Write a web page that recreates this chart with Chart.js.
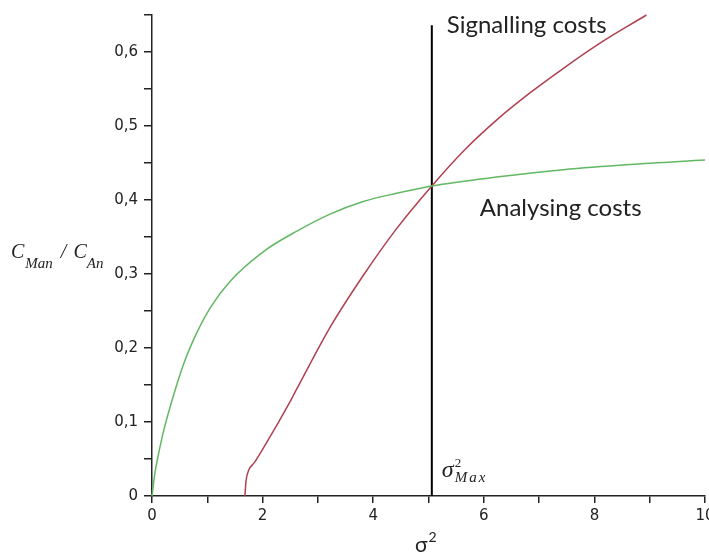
<!DOCTYPE html>
<html>
<head>
<meta charset="utf-8">
<script src="https://cdn.jsdelivr.net/npm/chart.js@4"></script>
<style>
  html, body { margin: 0; padding: 0; background: #fff; }
  #wrap { width: 709px; height: 557px; }
</style>
</head>
<body>
<div id="wrap"><canvas id="cost-chart" width="709" height="557"></canvas></div>
<script>
// values (sigma^2 on x, cost ratio on y)
const analysingX = [0, 0.05, 0.1, 0.2, 0.33, 0.57, 0.8, 1.05, 1.41, 2.01, 2.62, 3.22, 3.82, 4.42, 5.06, 6.23, 7.44, 8.64, 10];
const analysingCost = [0, 0.03, 0.05, 0.085, 0.121, 0.178, 0.219, 0.254, 0.29, 0.33, 0.358, 0.381, 0.398, 0.409, 0.419, 0.431, 0.441, 0.448, 0.454];

const signallingX = [1.68, 1.70, 1.75, 1.85, 2.0, 2.5, 2.62, 3.22, 3.82, 4.42, 5.06, 5.63, 6.23, 6.84, 7.44, 8.04, 8.94];
const signallingCost = [0, 0.02, 0.035, 0.045, 0.063, 0.128, 0.145, 0.228, 0.298, 0.361, 0.419, 0.466, 0.508, 0.545, 0.578, 0.609, 0.650];

const sigmaMax = 5.06;
const markerRange = [0, 0.636];

const xTickLabels = [0, 2, 4, 6, 8, 10];
const yTickLabels = [0, 0.1, 0.2, 0.3, 0.4, 0.5, 0.6];

const toPoints = (xs, ys) => xs.map((x, i) => ({ x: x, y: ys[i] }));

const axisColor = '#222';
const tickFont = { family: "'DejaVu Sans'", size: 15 };

const textPlugin = {
    id: 'costTexts',
    afterDraw(chart) {
        const ctx = chart.ctx;
        const xs = chart.scales.x;
        const ys = chart.scales.y;
        const xm = xs.getPixelForValue(sigmaMax);
        ctx.save();
        ctx.fillStyle = '#222';
        ctx.textBaseline = 'alphabetic';
        ctx.textAlign = 'left';

        // curve labels
        ctx.font = "24px Lato";
        ctx.fillText('Signalling costs', xm + 15, 33);
        ctx.fillText('Analysing costs', xm + 48, ys.getPixelForValue(0.4) + 16);

        // sigma^2_Max marker label
        const by = ys.getPixelForValue(0) - 19;
        ctx.font = "italic 24px 'Liberation Serif'";
        ctx.fillText('σ', xm + 10, by);
        const sw = ctx.measureText('σ').width;
        ctx.font = "13px 'Liberation Serif'";
        ctx.fillText('2', xm + 11 + sw, by - 10);
        ctx.font = "italic 15px 'Liberation Serif'";
        ctx.letterSpacing = '2px';
        ctx.fillText('Max', xm + 11 + sw, by + 5);
        ctx.letterSpacing = '0px';

        // x axis title
        const cx = (xs.left + xs.right) / 2;
        ctx.font = "21px Lato";
        const tw = ctx.measureText('σ').width;
        ctx.fillText('σ', cx - tw - 1, 552);
        ctx.font = "14px Lato";
        ctx.fillText('2', cx, 542);

        // y axis title C_Man / C_An
        const ty = (ys.top + ys.bottom) / 2 + 2;
        let px = 11;
        const main = "italic 20px 'Liberation Serif'";
        const sub = "italic 15px 'Liberation Serif'";
        ctx.font = main; ctx.fillText('C', px, ty); px += ctx.measureText('C').width + 1;
        ctx.font = sub; ctx.fillText('Man', px, ty + 10); px += ctx.measureText('Man').width + 8;
        ctx.font = main; ctx.fillText('/', px, ty); px += ctx.measureText('/').width + 7;
        ctx.fillText('C', px, ty); px += ctx.measureText('C').width;
        ctx.font = sub; ctx.fillText('An', px, ty + 10);
        ctx.restore();
    }
};

new Chart(document.getElementById('cost-chart'), {
    type: 'scatter',
    data: {
        datasets: [
            {
                label: 'Analysing costs',
                data: toPoints(analysingX, analysingCost),
                showLine: true,
                borderColor: '#62b862',
                borderWidth: 1.5,
                pointRadius: 0,
                cubicInterpolationMode: 'monotone',
                clip: false
            },
            {
                label: 'Signalling costs',
                data: toPoints(signallingX, signallingCost),
                showLine: true,
                borderColor: '#b04050',
                borderWidth: 1.5,
                pointRadius: 0,
                cubicInterpolationMode: 'monotone',
                clip: false
            },
            {
                label: 'sigma max',
                data: toPoints([sigmaMax, sigmaMax], markerRange),
                showLine: true,
                borderColor: '#000',
                borderWidth: 2,
                pointRadius: 0,
                clip: false
            }
        ]
    },
    options: {
        responsive: false,
        animation: false,
        devicePixelRatio: 1,
        layout: { padding: { left: 0, top: 15, right: 4, bottom: 0 } },
        plugins: { legend: { display: false }, tooltip: { enabled: false } },
        scales: {
            x: {
                type: 'linear',
                min: 0,
                max: 10,
                border: { display: true, color: axisColor, width: 1.5 },
                grid: { drawOnChartArea: false, drawTicks: true, tickLength: 7, tickColor: axisColor, lineWidth: 1.5 },
                ticks: {
                    stepSize: 1,
                    padding: 4,
                    color: '#222',
                    font: tickFont,
                    maxRotation: 0,
                    autoSkip: false,
                    callback: v => xTickLabels.includes(v) ? String(v) : ''
                },
                afterFit: s => { s.height = 61; s.paddingLeft = 0; s.paddingRight = 0; }
            },
            y: {
                type: 'linear',
                min: 0,
                max: 0.65,
                border: { display: true, color: axisColor, width: 1.5 },
                grid: { drawOnChartArea: false, drawTicks: true, tickLength: 8, tickColor: axisColor, lineWidth: 1.5 },
                ticks: {
                    stepSize: 0.05,
                    padding: 6,
                    color: '#222',
                    font: tickFont,
                    autoSkip: false,
                    callback: v => {
                        const hit = yTickLabels.find(t => Math.abs(t - v) < 1e-6);
                        if (hit === undefined) return '';
                        return hit === 0 ? '0' : hit.toFixed(1).replace('.', ',');
                    }
                },
                afterFit: s => { s.width = 152; s.paddingTop = 0; s.paddingBottom = 0; }
            }
        }
    },
    plugins: [textPlugin]
});
</script>
</body>
</html>
